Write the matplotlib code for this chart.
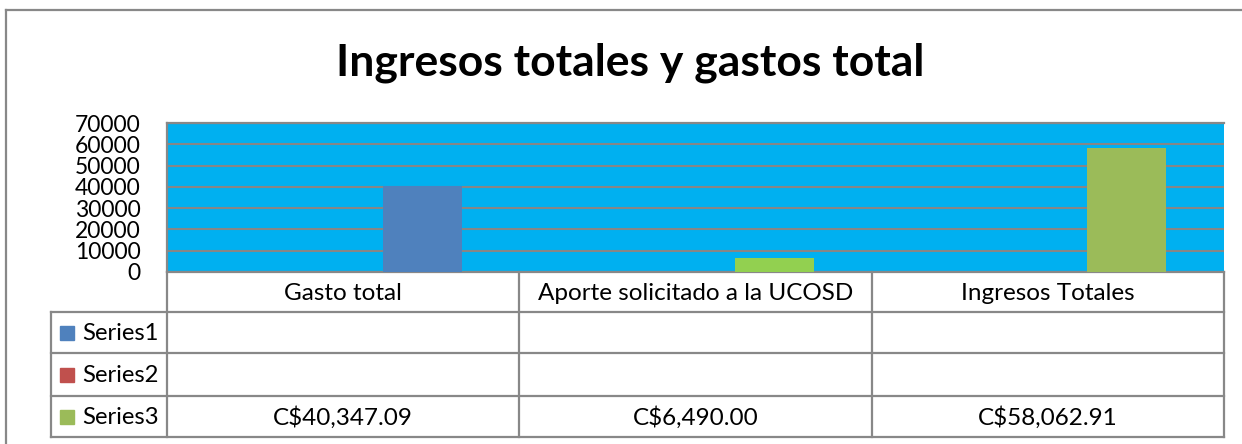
import matplotlib.pyplot as plt
import numpy as np

categorias = ["Gasto total", "Aporte solicitado a la UCOSD", "Ingresos Totales"]
series_nombres = ["Series1", "Series2", "Series3"]
serie1 = [None, None, None]
serie2 = [None, None, None]
serie3 = [40347.09, 6490.00, 58062.91]
etiquetas_serie3 = ["C$40,347.09", "C$6,490.00", "C$58,062.91"]

colores_series = ["#4F81BD", "#C0504D", "#9BBB59"]
colores_barras3 = ["#4F81BD", "#92D050", "#9BBB59"]
gris = "#888888"

plt.rcParams['font.family'] = ['Lato', 'DejaVu Sans']

W, H = 1242, 444
fig = plt.figure(figsize=(W / 100, H / 100), dpi=100)


def rect(x0, y0, x1, y1):
    # pixeles (desde arriba) -> fracción de figura
    return [x0 / W, 1 - y1 / H, (x1 - x0) / W, (y1 - y0) / H]


# marco exterior (solo arriba e izquierda visibles)
fig.add_artist(plt.Line2D([5.5 / W, 1], [1 - 10.5 / H, 1 - 10.5 / H], color=gris, lw=1.6))
fig.add_artist(plt.Line2D([5.5 / W, 5.5 / W], [0, 1 - 10.5 / H], color=gris, lw=1.6))

fig.text(630 / W, 1 - 63 / H, "Ingresos totales y gastos total",
         ha='center', va='center', fontsize=32, fontweight='bold')

# área de trazado
px_left, px_right, px_top, px_bot = 167, 1224, 123, 272
ax = fig.add_axes(rect(px_left, px_top, px_right, px_bot))
ax.set_facecolor("#00B0F0")
x = np.arange(len(categorias))
slot = 0.224
ax.bar(x + slot, serie3, width=slot, color=colores_barras3, zorder=3)
ax.set_xlim(-0.5, 2.5)
ax.set_ylim(0, 70000)
ax.set_yticks(np.arange(0, 70001, 10000))
ax.set_yticklabels([str(v) for v in range(0, 70001, 10000)], fontsize=16.5)
ax.set_xticks([])
ax.tick_params(axis='y', length=0, pad=19)
ax.yaxis.grid(True, color="#868686", lw=1.5, zorder=1)
ax.set_axisbelow(True)
for s in ['top', 'left', 'bottom']:
    ax.spines[s].set_color(gris)
    ax.spines[s].set_linewidth(1.6)
ax.spines['right'].set_visible(False)

# tabla de datos
leg_left = 51
unidades_px = 3 / (px_right - px_left)
leg_w = (px_left - leg_left) * unidades_px
filas = [272, 312, 353, 396, 437]
tab = fig.add_axes(rect(leg_left, filas[0], px_right, filas[-1]))
tab.set_xlim(-0.5 - leg_w, 2.5)
tab.set_ylim(filas[-1], filas[0])
tab.axis('off')

for yb in filas[1:]:
    tab.plot([-0.5 - leg_w, 2.5], [yb, yb], color=gris, lw=1.6, clip_on=False)
tab.plot([-0.5 - leg_w] * 2, [filas[1], filas[-1]], color=gris, lw=1.6, clip_on=False)
for xv in [-0.5, 0.5, 1.5, 2.5]:
    tab.plot([xv, xv], [filas[0], filas[-1]], color=gris, lw=1.6, clip_on=False)

for i, c in enumerate(categorias):
    tab.text(i, (filas[0] + filas[1]) / 2 + 1, c, ha='center', va='center', fontsize=17.5)

valores = [serie1, serie2, etiquetas_serie3]
for r, nombre in enumerate(series_nombres):
    yc = (filas[r + 1] + filas[r + 2]) / 2
    x_m = -0.5 - leg_w + 9 * unidades_px
    tab.add_patch(plt.Rectangle((x_m, yc - 7), 14 * unidades_px, 14,
                                color=colores_series[r], clip_on=False))
    tab.text(x_m + 22 * unidades_px, yc + 1, nombre, ha='left', va='center', fontsize=17.2)
    for j, v in enumerate(valores[r]):
        if v is not None:
            tab.text(j, yc + 1, v, ha='center', va='center', fontsize=17.5)

fig.savefig("out.png", dpi=100)
